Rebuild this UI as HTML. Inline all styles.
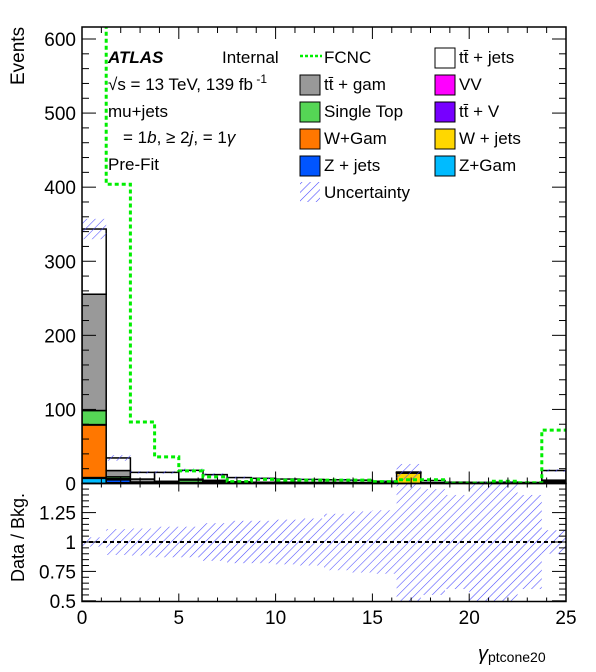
<!DOCTYPE html>
<html><head><meta charset="utf-8"><style>
body{margin:0;background:#fff;}
svg{display:block;font-family:"Liberation Sans",sans-serif;}
</style></head><body>
<svg id="c" width="596" height="672" viewBox="0 0 596 672">
<defs>
<pattern id="hatch" patternUnits="userSpaceOnUse" width="6" height="6" patternTransform="rotate(45)">
<line x1="0" y1="0" x2="0" y2="6" stroke="#4a4aff" stroke-width="1.1"/>
</pattern>
<clipPath id="mainclip"><rect x="82" y="27" width="484" height="457"/></clipPath>
<clipPath id="ratclip"><rect x="82" y="484" width="484" height="118"/></clipPath>
</defs>
<g id="main" clip-path="url(#mainclip)"></g>
<g id="rat" clip-path="url(#ratclip)"></g>
<g id="axes"></g>
<g id="legend">
<g>
<text x="108" y="63" font-size="17" font-weight="bold" font-style="italic">ATLAS</text>
<text x="222" y="63" font-size="17">Internal</text>
<text x="108" y="90" font-size="17">√s = 13 TeV, 139 fb<tspan dy="-7" font-size="12"> -1</tspan></text>
<text x="108" y="117" font-size="17">mu+jets</text>
<text x="123" y="143" font-size="17">= 1<tspan font-style="italic">b</tspan>, ≥ 2<tspan font-style="italic">j</tspan>, = 1<tspan font-style="italic">γ</tspan></text>
<text x="108" y="170" font-size="17">Pre-Fit</text>
</g>
<g><line x1="300" y1="56" x2="322" y2="56" stroke="#00ee00" stroke-width="2.5" stroke-dasharray="3,2"/><text x="324" y="63" font-size="17">FCNC</text></g>
<g><rect x="300" y="75" width="20" height="20" fill="#999" stroke="#000"/><text x="324" y="90" font-size="17">tt̄ +  gam</text></g>
<g><rect x="300" y="102" width="20" height="20" fill="#55d655" stroke="#000"/><text x="324" y="117" font-size="17">Single Top</text></g>
<g><rect x="300" y="129" width="20" height="20" fill="#ff7700" stroke="#000"/><text x="324" y="144" font-size="17">W+Gam</text></g>
<g><rect x="300" y="156" width="20" height="20" fill="#0055ff" stroke="#000"/><text x="324" y="171" font-size="17">Z + jets</text></g>
<g><rect x="300" y="182" width="20" height="20" fill="url(#hatch)"/><text x="324" y="198" font-size="17">Uncertainty</text></g>
<g><rect x="435" y="48" width="20" height="20" fill="#fff" stroke="#000"/><text x="459" y="63" font-size="17">tt̄ + jets</text></g>
<g><rect x="435" y="75" width="20" height="20" fill="#ff00ff" stroke="#000"/><text x="459" y="90" font-size="17">VV</text></g>
<g><rect x="435" y="102" width="20" height="20" fill="#7700ff" stroke="#000"/><text x="459" y="117" font-size="17">tt̄ + V</text></g>
<g><rect x="435" y="129" width="20" height="20" fill="#ffd700" stroke="#000"/><text x="459" y="144" font-size="17">W + jets</text></g>
<g><rect x="435" y="156" width="20" height="20" fill="#00bbff" stroke="#000"/><text x="459" y="171" font-size="17">Z+Gam</text></g>
</g>
<text transform="translate(24,85) rotate(-90)" font-size="19">Events</text>
<text transform="translate(24,582) rotate(-90)" font-size="18">Data / Bkg.</text>
<text x="478" y="660" font-size="20" font-style="italic">γ<tspan font-size="14" font-style="normal" dy="2">ptcone20</tspan></text>
</svg>
<script>
const binEdgesStart = 0, binWidth = 1.25, nBins = 20;
const zgam   = [7,1,0,0,0,0,0,0,0,0,0,0,0,0,0,0,0,0,0,0];
const zjets  = [1,4,0.5,0.5,0.5,0,0,0,0,0,0,0,0,0,0,0,0,0,0,0.5];
const wjets  = [0,0,0,0,0,2,0,0,0,0,0,0,0,14,0,0,0,0,0,0];
const wgam   = [71,1,0.5,0.5,0.5,0.5,0.5,0.3,0.3,0.3,0.3,0.3,0.3,0.3,0.3,0,0,0,0,0.5];
const ttv    = [0.5,0.5,0.5,0.5,0.3,0.3,0.3,0.3,0.3,0.3,0.3,0.3,0.3,0.3,0.3,0.3,0.3,0.3,0.3,1];
const vv     = [0,0,0,0,0,0,0,0,0,0,0,0,0,0,0,0,0,0,0,0];
const stop   = [19,2.5,0.5,0.5,3.5,0.5,0.5,0.3,0.3,0.3,0.3,0.3,0.2,0.2,0.2,0.1,0.1,0.1,0.1,1];
const ttgam  = [157,8.5,4,1,1,1,1,0.8,0.8,0.6,0.6,0.5,0.4,0.3,0.4,0.2,0.2,0.2,0.2,1.5];
const ttjets = [88,17,9,12,12,7.7,5.7,5.3,4.3,4,3.5,3.1,1.8,0.4,2.8,1.2,1,1.2,0.8,13];
const fcnc   = [700,404,83,36,17,9,2.5,5.5,4.5,4.5,4.5,4.5,2.5,5,5,0.5,0.5,3,1,72];
const relUnc = [0.04,0.11,0.115,0.13,0.13,0.16,0.18,0.18,0.19,0.2,0.24,0.26,0.27,0.7,0.45,0.4,0.7,0.7,0.4,0.1];
const yTicksMain = [0,100,200,300,400,500,600];
const yTicksRatio = [0.5,0.75,1,1.25];
const yTickLabelsRatio = ["0.5","0.75","1","1.25"];
const xTicks = [0,5,10,15,20,25];

const NS="http://www.w3.org/2000/svg";
const X=v=>82+v*(484/25);
const Y=v=>483.5-v*(444.5/600);
const R=v=>542-(v-1)*117.6;
function mk(tag,attrs,parent){const e=document.createElementNS(NS,tag);for(const k in attrs)e.setAttribute(k,attrs[k]);parent.appendChild(e);return e;}
const main=document.getElementById('main'), rat=document.getElementById('rat'), axes=document.getElementById('axes');
const comps=[[zgam,'#00bbff','zgam'],[zjets,'#0055ff','zjets'],[wjets,'#ffd700','wjets'],[wgam,'#ff7700','wgam'],[ttv,'#7700ff','ttv'],[vv,'#ff00ff','vv'],[stop,'#55d655','single-top'],[ttgam,'#999999','ttgam'],[ttjets,'#ffffff','ttjets']];
const totals=[];
for(let i=0;i<nBins;i++){
  let base=0;
  const x0=X(binEdgesStart+i*binWidth),x1=X(binEdgesStart+(i+1)*binWidth);
  for(const [arr,col,nm] of comps){
    const v=arr[i]; if(v<=0) continue;
    const r=mk('rect',{x:x0,y:Y(base+v),width:x1-x0,height:Y(base)-Y(base+v),fill:col,stroke:'#000','stroke-width':1.5},main);
    
    
    base+=v;
  }
  totals.push(base);
  const u=relUnc[i];
  const h=mk('rect',{x:x0,y:Y(base*(1+u)),width:x1-x0,height:Y(base*(1-u))-Y(base*(1+u)),fill:'url(#hatch)'},main);
  
  
  const hr=mk('rect',{x:x0,y:R(1+u),width:x1-x0,height:R(1-u)-R(1+u),fill:'url(#hatch)'},rat);
  
  
}
let d='';
for(let i=0;i<nBins;i++){
  const x0=X(binEdgesStart+i*binWidth),x1=X(binEdgesStart+(i+1)*binWidth);
  d+=(i===0?'M':'L')+x0+','+Y(fcnc[i])+' L'+x1+','+Y(fcnc[i])+' ';
}
const fl=mk('path',{d:d,fill:'none',stroke:'#00ee00','stroke-width':3,'stroke-dasharray':'4,3'},main);


const dl=mk('line',{x1:82,x2:566,y1:R(1),y2:R(1),stroke:'#000','stroke-width':2,'stroke-dasharray':'4,3'},rat);


const f1=mk('rect',{x:82,y:27,width:484,height:456.5,fill:'none',stroke:'#000','stroke-width':1.5},axes);


const f2=mk('rect',{x:82,y:483.5,width:484,height:118,fill:'none',stroke:'#000','stroke-width':1.5},axes);


for(let v=0;v<=25;v++){
  const L=(v%5===0)?12:6, x=X(v);
  mk('line',{x1:x,x2:x,y1:483.5,y2:483.5-L,stroke:'#000'},axes);
  mk('line',{x1:x,x2:x,y1:27,y2:27+L,stroke:'#000'},axes);
  mk('line',{x1:x,x2:x,y1:601.5,y2:601.5-L/1.5,stroke:'#000'},axes);
  mk('line',{x1:x,x2:x,y1:483.5,y2:483.5+L/1.5,stroke:'#000'},axes);
}
xTicks.forEach(v=>{const t=mk('text',{x:X(v),y:624,'font-size':19,'text-anchor':'middle'},axes);t.textContent=v;

});
for(let v=0;v<=600;v+=20){
  const L=(v%100===0)?14:7,y=Y(v);
  mk('line',{x1:82,x2:82+L,y1:y,y2:y,stroke:'#000'},axes);
  mk('line',{x1:566,x2:566-L,y1:y,y2:y,stroke:'#000'},axes);
}
yTicksMain.forEach(v=>{const t=mk('text',{x:76,y:Y(v)+7,'font-size':19,'text-anchor':'end'},axes);t.textContent=v;

});
for(let v=0.5;v<=1.5001;v+=0.05){
  const major=Math.abs(v*4-Math.round(v*4))<1e-6;
  const L=major?14:7,y=R(v);
  mk('line',{x1:82,x2:82+L,y1:y,y2:y,stroke:'#000'},axes);
  mk('line',{x1:566,x2:566-L,y1:y,y2:y,stroke:'#000'},axes);
}
yTicksRatio.forEach((v,i)=>{const t=mk('text',{x:76,y:R(v)+7,'font-size':19,'text-anchor':'end'},axes);t.textContent=yTickLabelsRatio[i];

});
</script>
</body></html>
